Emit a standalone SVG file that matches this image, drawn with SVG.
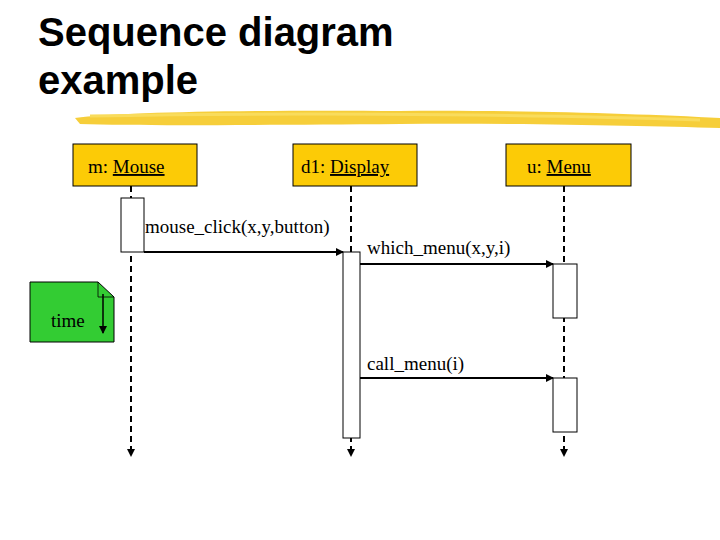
<svg xmlns="http://www.w3.org/2000/svg" width="720" height="540" viewBox="0 0 720 540">
<defs>
<style>
.t{font-family:"Liberation Serif",serif;font-size:19px;fill:#000}
.h{font-family:"Liberation Sans",Arial,sans-serif;font-weight:bold;font-size:40px;fill:#000}
.obj{fill:#fccb06;stroke:#000;stroke-width:1}
.act{fill:#fff;stroke:#000;stroke-width:1}
.life{stroke:#000;stroke-width:2;stroke-dasharray:6,4;fill:none}
.msg{stroke:#000;stroke-width:2;fill:none}
</style>
<marker id="ah" markerWidth="8" markerHeight="8" refX="7" refY="4" orient="auto" markerUnits="userSpaceOnUse"><path d="M0,0 L8,4 L0,8 z" fill="#000"/></marker>
</defs>
<rect width="720" height="540" fill="#fff"/>
<text class="h" x="38" y="46">Sequence diagram</text>
<text class="h" x="38" y="94">example</text>
<path d="M75,118 C120,112 250,110 400,111 C520,110 640,114 720,118 L720,128 C640,126 520,123 400,124 C250,125 140,126 80,124 Z" fill="#f5c518" opacity="0.85"/>
<path d="M90,116 C250,113 500,113 700,120" stroke="#f9dc5c" stroke-width="3" fill="none"/>
<g id="connectors">
<line class="life" x1="131" y1="186" x2="131" y2="456" marker-end="url(#ah)"/>
<line class="life" x1="351" y1="186" x2="351" y2="456" marker-end="url(#ah)"/>
<line class="life" x1="564" y1="186" x2="564" y2="456" marker-end="url(#ah)"/>
<line class="msg" x1="144" y1="252" x2="343" y2="252" marker-end="url(#ah)"/>
<line class="msg" x1="360" y1="264" x2="553" y2="264" marker-end="url(#ah)"/>
<line class="msg" x1="360" y1="378" x2="553" y2="378" marker-end="url(#ah)"/>
<text class="t" x="145" y="233">mouse_click(x,y,button)</text>
<text class="t" x="367" y="254" font-size="17">which_menu(x,y,i)</text>
<text class="t" x="367" y="370" font-size="17">call_menu(i)</text>
</g>
<g id="mouse"><rect class="obj" x="73" y="144" width="124" height="42"/><text class="t" x="88" y="173" font-size="21">m: <tspan text-decoration="underline">Mouse</tspan></text></g>
<g id="display"><rect class="obj" x="293" y="144" width="124" height="42"/><text class="t" x="301" y="173" font-size="21">d1: <tspan text-decoration="underline">Display</tspan></text></g>
<g id="menu"><rect class="obj" x="506" y="144" width="125" height="42"/><text class="t" x="527" y="173" font-size="21">u: <tspan text-decoration="underline">Menu</tspan></text></g>
<g id="activations">
<rect class="act" x="121" y="198" width="23" height="54"/>
<rect class="act" x="343" y="252" width="17" height="186"/>
<rect class="act" x="553" y="264" width="24" height="54"/>
<rect class="act" x="553" y="378" width="24" height="54"/>
</g>
<g id="time-note">
<path d="M30,282 L98,282 L114,297 L114,342 L30,342 Z" fill="#33cc33" stroke="#000"/>
<path d="M98,282 L98,297 L114,297" fill="none" stroke="#000" stroke-width="0.8"/>
<text class="t" x="51" y="327" font-size="21">time</text>
<line x1="103" y1="294" x2="103" y2="333" stroke="#000" stroke-width="1.5" marker-end="url(#ah)"/>
</g>
</svg>
